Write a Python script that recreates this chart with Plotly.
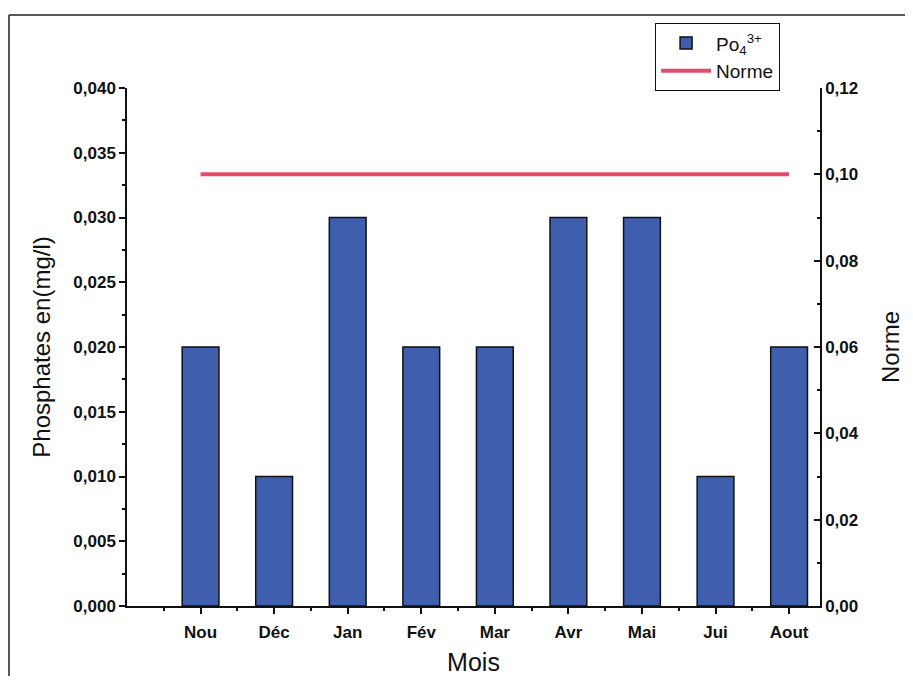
import plotly.graph_objects as go

months = ["Nou", "Déc", "Jan", "Fév", "Mar", "Avr", "Mai", "Jui", "Aout"]
phosphates = [0.020, 0.010, 0.030, 0.020, 0.020, 0.030, 0.030, 0.010, 0.020]
norme = [0.10, 0.10, 0.10, 0.10, 0.10, 0.10, 0.10, 0.10, 0.10]
left_ticks = [0.000, 0.005, 0.010, 0.015, 0.020, 0.025, 0.030, 0.035, 0.040]
right_ticks = [0.00, 0.02, 0.04, 0.06, 0.08, 0.10, 0.12]

xpos = list(range(len(months)))
FONT = "Liberation Sans, Arial, sans-serif"
TICKFONT = dict(family=FONT, size=17, color="#111111", weight="bold")

fig = go.Figure()
fig.add_trace(go.Bar(
    x=xpos, y=phosphates, name="Po<sub>4</sub><sup>3+</sup>",
    width=0.5, marker=dict(color="#3f5fae", line=dict(color="#111111", width=1.5)),
))
fig.add_trace(go.Scatter(
    x=xpos, y=norme, name="Norme", yaxis="y2", mode="lines",
    line=dict(color="#e44b6a", width=4),
))

axis_common = dict(showgrid=False, zeroline=False, showline=True, linecolor="#111111",
                   linewidth=1.5, ticklen=6, tickwidth=1.5, tickcolor="#111111",
                   tickfont=TICKFONT, automargin=False)

fig.update_layout(
    width=897, height=668,
    margin=dict(l=119, r=85, t=80, b=70),
    paper_bgcolor="white", plot_bgcolor="white",
    separators=",.",
    font=dict(family=FONT, color="#111111"),
    xaxis=dict(
        range=[-1, 8.42], tickvals=xpos, ticktext=months, ticks="outside",
        ticklabelstandoff=4,
        minor=dict(tickvals=[i + 0.5 for i in range(-1, len(months))], ticklen=3,
                   tickcolor="#111111", ticks="outside"),
        title=dict(text="Mois", font=dict(family=FONT, size=25), standoff=23),
        **axis_common,
    ),
    yaxis=dict(
        range=[0, 0.040], tickvals=left_ticks, tickformat=".3f", ticks="outside",
        minor=dict(dtick=0.0025, ticklen=3, tickcolor="#111111", ticks="outside"),
        title=dict(text="Phosphates en(mg/l)", font=dict(family=FONT, size=24), standoff=16),
        **axis_common,
    ),
    yaxis2=dict(
        range=[0, 0.12], tickvals=right_ticks, tickformat=".2f", ticks="inside",
        overlaying="y", side="right",
        minor=dict(dtick=0.01, ticklen=3, tickcolor="#111111", ticks="inside"),
        title=dict(text="Norme", font=dict(family=FONT, size=24), standoff=24),
        **axis_common,
    ),
    legend=dict(
        x=0.762, y=1.125, xanchor="left", yanchor="top",
        bordercolor="#111111", borderwidth=1, bgcolor="white",
        font=dict(family=FONT, size=19), tracegroupgap=0, itemwidth=50,
    ),
    shapes=[
        dict(type="line", xref="paper", yref="paper", x0=-0.1703, x1=1.2,
             y0=1.141, y1=1.141, line=dict(color="#222222", width=1.5)),
        dict(type="line", xref="paper", yref="paper", x0=-0.1703, x1=-0.1703,
             y0=1.141, y1=-0.2, line=dict(color="#222222", width=1.5)),
    ],
)

fig.write_html("out.html")
